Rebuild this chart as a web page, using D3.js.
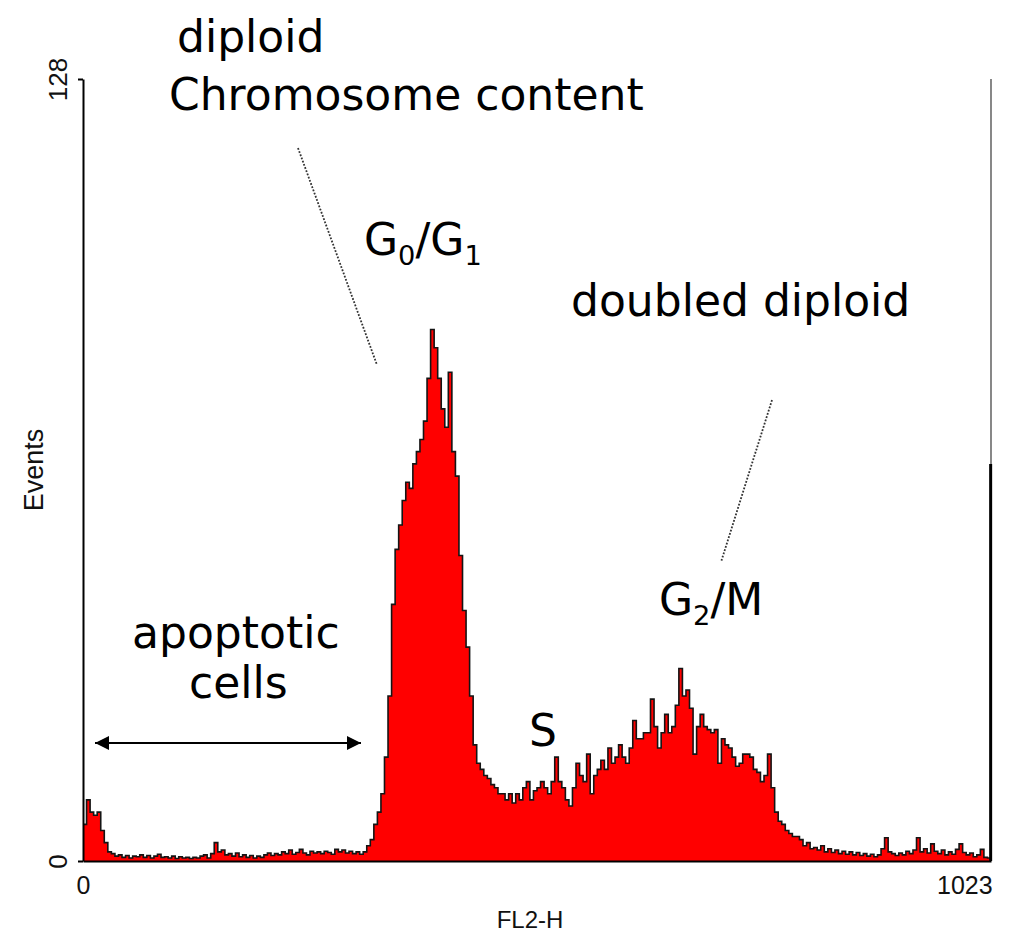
<!DOCTYPE html>
<html>
<head>
<meta charset="utf-8">
<script src="https://cdn.jsdelivr.net/npm/d3@7"></script>
<style>
  html, body { margin: 0; padding: 0; background: #fff; }
  svg { display: block; }
</style>
</head>
<body>
<svg id="chart" width="1009" height="936"></svg>
<script>
// ---- data (FL2-H histogram, 256 bins of 4 channels each) ----
const binWidth = 4;
const events = [
  6, 10, 8, 7.5, 8, 5, 3, 1.5, 1.2, 0.8,
  1.0, 0.6, 0.9, 0.5, 0.8, 0.7, 1.0, 0.6, 0.9, 0.5,
  0.8, 1.1, 0.6, 0.7, 0.5, 0.8, 0.4, 0.7, 0.5, 0.6,
  0.4, 0.6, 0.5, 0.8, 1.0, 0.5, 1.2, 3.0, 1.5, 1.8,
  1.0, 1.2, 0.8, 1.3, 0.7, 1.0, 0.6, 0.9, 0.5, 0.8,
  0.6, 1.0, 1.3, 0.9, 1.2, 1.0, 1.5, 1.2, 1.8, 1.1,
  1.4, 1.9, 1.3, 1.0, 1.6, 1.3, 1.5, 1.2, 1.6, 1.4,
  1.1, 1.9, 1.5, 1.8, 1.3, 1.6, 1.2, 1.5, 1.1, 1.5,
  2.5, 3.5, 6, 8, 11, 17, 27, 42, 51, 55,
  59, 62, 61, 65, 67, 69, 72, 79, 87, 84,
  79, 74, 71, 80, 67, 63, 50, 41, 35, 27,
  19, 16, 15, 14, 13.5, 12.5, 12, 11, 11, 10,
  11, 9.5, 11, 10, 12, 13, 10, 11.5, 12, 13,
  12, 11, 13, 17, 13, 12, 10, 9, 12, 16,
  14, 13, 17.5, 11, 14, 15, 16.5, 15, 18.5, 16,
  17, 19, 17, 16, 18.5, 23, 20, 20, 21, 21,
  26.5, 22, 18.5, 21, 24, 21, 22, 25.5, 31.5, 27,
  28, 25, 17.5, 22, 24, 22, 21.5, 21, 21.5, 16,
  20, 19, 18.5, 17, 15.5, 16, 17.5, 17.5, 17, 15,
  14.5, 13, 14, 17.5, 12, 8, 6.5, 6, 5, 4.5,
  4, 4, 3.5, 2.5, 3, 2, 2.2, 1.8, 2.5, 1.5,
  2.0, 1.4, 1.8, 1.2, 1.6, 1.1, 1.5, 1.0, 1.4, 0.9,
  1.2, 0.8, 1.1, 0.7, 1.0, 2.0, 3.8, 1.5, 1.2, 0.9,
  1.3, 1.0, 1.6, 1.2, 1.8, 3.8, 1.5, 2.0, 1.3, 2.8,
  1.6, 1.2, 1.8, 1.0, 1.5, 1.1, 1.9, 2.8, 1.4, 1.0,
  1.3, 0.7, 1.0, 1.9, 0.6, 0.5
];
const overflowChannel = [1023];
const overflowValue = [65];
const xTicks = [0, 1023];
const yTicks = [0, 128];
const xLabel = "FL2-H";
const yLabel = "Events";

// ---- layout ----
const svg = d3.select("#chart");
const x = d3.scaleLinear().domain([0, 1024]).range([83, 991]);
const y = d3.scaleLinear().domain([0, 128]).range([861, 79]);

const pts = events.map((v, i) => ({ c: i * binWidth, v }));
pts.push({ c: events.length * binWidth, v: events[events.length - 1] });

// right frame line (grey)
svg.append("line")
  .attr("x1", x(1024)).attr("x2", x(1024))
  .attr("y1", y(128)).attr("y2", y(0))
  .attr("stroke", "#6a6a6a").attr("stroke-width", 1.6);

// histogram fill
svg.append("path")
  .datum(pts)
  .attr("fill", "#ff0000")
  .attr("d", d3.area().x(d => x(d.c)).y0(y(0)).y1(d => y(d.v)).curve(d3.curveStepAfter));

// histogram outline
svg.append("path")
  .datum(pts)
  .attr("fill", "none")
  .attr("stroke", "#141414")
  .attr("stroke-width", 1.6)
  .attr("d", d3.line().x(d => x(d.c)).y(d => y(d.v)).curve(d3.curveStepAfter));

// overflow channel spike
svg.selectAll(".ovf").data(overflowChannel).enter().append("line")
  .attr("class", "ovf")
  .attr("x1", d => x(d + 0.6)).attr("x2", d => x(d + 0.6))
  .attr("y1", y(0)).attr("y2", (d, i) => y(overflowValue[i]))
  .attr("stroke", "#000").attr("stroke-width", 3);

// ---- axes ----
const axisFont = "'Liberation Sans', Arial, sans-serif";

const yAxis = svg.append("g")
  .attr("transform", `translate(${x(0)},0)`)
  .call(d3.axisLeft(y).tickValues(yTicks).tickSizeInner(5).tickSizeOuter(0).tickFormat(d3.format("d")));
yAxis.select(".domain").attr("stroke", "#000").attr("stroke-width", 2);
yAxis.selectAll(".tick line").attr("stroke", "#000").attr("stroke-width", 2);
yAxis.selectAll(".tick text")
  .attr("x", 0).attr("dy", 0)
  .attr("transform", "translate(-16,0) rotate(-90)")
  .attr("text-anchor", "middle")
  .attr("font-family", axisFont).attr("font-size", 26).attr("fill", "#111");

const xAxis = svg.append("g")
  .attr("transform", `translate(0,${y(0)})`)
  .call(d3.axisBottom(x).tickValues(xTicks).tickSizeInner(0).tickSizeOuter(0).tickFormat(d3.format("d")));
xAxis.select(".domain").attr("stroke", "#000").attr("stroke-width", 2);
xAxis.selectAll(".tick text")
  .attr("y", 0).attr("dy", 33)
  .attr("text-anchor", (d, i) => i === xTicks.length - 1 ? "end" : "middle")
  .attr("dx", (d, i) => i === xTicks.length - 1 ? 2 : 0)
  .attr("font-family", axisFont).attr("font-size", 25).attr("fill", "#111");

svg.append("text")
  .attr("x", 530).attr("y", 928)
  .attr("text-anchor", "middle")
  .attr("font-family", axisFont).attr("font-size", 24).attr("fill", "#111")
  .text(xLabel);

svg.append("text")
  .attr("transform", "translate(43,470) rotate(-90)")
  .attr("text-anchor", "middle")
  .attr("font-family", axisFont).attr("font-size", 27).attr("fill", "#111")
  .text(yLabel);

// ---- annotations ----
const annFont = "'DejaVu Sans', Verdana, sans-serif";
const annSize = 44;
function ann(xp, yp, str) {
  return svg.append("text").attr("x", xp).attr("y", yp)
    .attr("font-family", annFont).attr("font-size", annSize).attr("fill", "#000").text(str);
}
ann(177, 52, "diploid");
ann(169, 110, "Chromosome content");
ann(571, 316, "doubled diploid");
ann(132, 648, "apoptotic");
ann(189, 698, "cells");
ann(529, 746, "S");

function subLabel(xp, yp, parts) {
  const t = svg.append("text").attr("x", xp).attr("y", yp)
    .attr("font-family", annFont).attr("font-size", annSize).attr("fill", "#000");
  parts.forEach(p => {
    const ts = t.append("tspan").text(p.t);
    if (p.sub) ts.attr("font-size", annSize * 0.62).attr("dy", 10);
    else if (p.after) ts.attr("dy", -10);
  });
}
subLabel(364, 255, [{t: "G"}, {t: "0", sub: true}, {t: "/G", after: true}, {t: "1", sub: true}]);
subLabel(659, 615, [{t: "G"}, {t: "2", sub: true}, {t: "/M", after: true}]);

// dotted leader lines
svg.append("line").attr("x1", 298).attr("y1", 148).attr("x2", 377).attr("y2", 365)
  .attr("stroke", "#333").attr("stroke-width", 1.8).attr("stroke-dasharray", "1.8,1.6");
svg.append("line").attr("x1", 772).attr("y1", 400).attr("x2", 721).attr("y2", 562)
  .attr("stroke", "#333").attr("stroke-width", 1.8).attr("stroke-dasharray", "1.8,1.6");

// double-headed arrow
const defs = svg.append("defs");
["start", "end"].forEach(k => {
  defs.append("marker").attr("id", "ah-" + k)
    .attr("viewBox", "0 0 10 10").attr("refX", 10).attr("refY", 5)
    .attr("markerWidth", 7).attr("markerHeight", 7)
    .attr("markerUnits", "strokeWidth")
    .attr("orient", k === "start" ? "auto-start-reverse" : "auto")
    .append("path").attr("d", "M0,0 L10,5 L0,10 Z").attr("fill", "#000");
});
svg.append("line").attr("x1", 95).attr("y1", 743).attr("x2", 361).attr("y2", 743)
  .attr("stroke", "#000").attr("stroke-width", 2)
  .attr("marker-start", "url(#ah-start)").attr("marker-end", "url(#ah-end)");
</script>
</body>
</html>
